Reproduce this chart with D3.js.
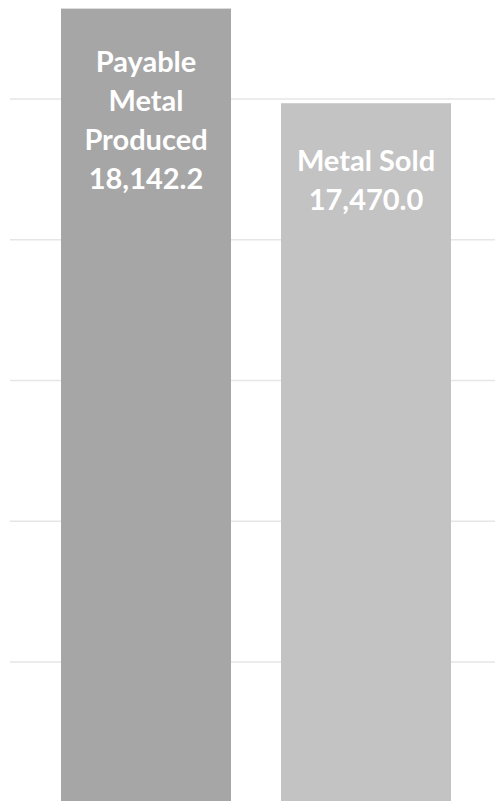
<!DOCTYPE html>
<html>
<head>
<meta charset="utf-8">
<script src="https://cdn.jsdelivr.net/npm/d3@7"></script>
<style>
  html, body { margin: 0; padding: 0; background: #fff; }
  svg { display: block; }
</style>
</head>
<body>
<svg></svg>
<script>
// Chart data
const categories = ["Payable Metal Produced", "Metal Sold"];
const labelLines = [["Payable", "Metal", "Produced"], ["Metal Sold"]];
const values = [18142.2, 17470.0];
const barColors = ["#a6a6a6", "#c3c3c3"];
const gridTicks = [13500, 14500, 15500, 16500, 17500];

const width = 495, height = 801;

const svg = d3.select("svg")
    .attr("width", width)
    .attr("height", height);

// Scales (axis starts off-screen at the bottom, chart is cropped)
const x = d3.scaleBand()
  .domain(categories)
  .range([11, 501])
  .padding(50 / 220);

const y = d3.scaleLinear()
  .domain([12500, 17500])
  .range([802.75, 99]);

// Gridlines
svg.append("g")
  .selectAll("line")
  .data(gridTicks)
  .join("line")
    .attr("x1", 10)
    .attr("x2", 501)
    .attr("y1", d => y(d))
    .attr("y2", d => y(d))
    .attr("stroke", "#e6e6e6")
    .attr("stroke-width", 1.5);

// Bars
svg.append("g")
  .selectAll("rect")
  .data(values)
  .join("rect")
    .attr("x", (d, i) => x(categories[i]))
    .attr("y", d => y(d))
    .attr("width", x.bandwidth())
    .attr("height", d => y(12500) - y(d))
    .attr("fill", (d, i) => barColors[i]);

// Labels inside the bars
const fmt = d3.format(",.1f");
const lineGap = 39;
const firstOffset = [63, 68];

const labels = svg.append("g")
  .selectAll("text")
  .data(values)
  .join("text")
    .attr("x", (d, i) => x(categories[i]) + x.bandwidth() / 2)
    .attr("y", (d, i) => y(d) + firstOffset[i])
    .attr("text-anchor", "middle")
    .attr("fill", "#fff")
    .style("font-family", "Lato, 'Open Sans', sans-serif")
    .style("font-weight", "700")
    .style("font-size", "29px");

labels.each(function(d, i) {
  const t = d3.select(this);
  const lines = labelLines[i].concat([fmt(d)]);
  lines.forEach((s, k) => {
    t.append("tspan")
      .attr("x", x(categories[i]) + x.bandwidth() / 2)
      .attr("dy", k === 0 ? 0 : lineGap)
      .text(s);
  });
});
</script>
</body>
</html>
